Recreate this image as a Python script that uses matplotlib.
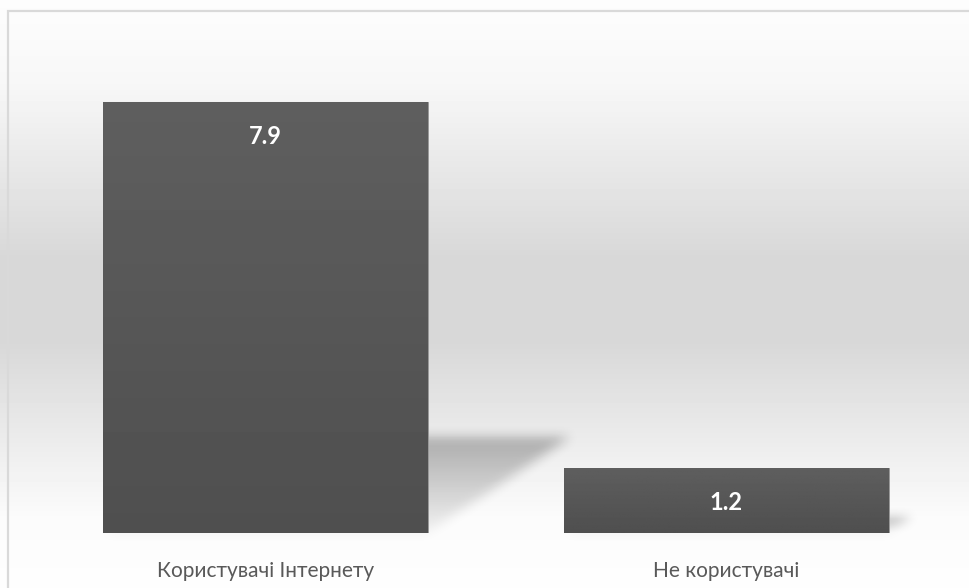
import numpy as np
import matplotlib
matplotlib.use('Agg')
import matplotlib.pyplot as plt
from matplotlib.path import Path

plt.rcParams['font.family'] = ['Lato', 'DejaVu Sans']

# Data
categories = ['Користувачі Інтернету', 'Не користувачі']
values     = [7.9, 1.2]

W, H, DPI = 970, 588, 100
fig = plt.figure(figsize=(W / DPI, H / DPI), dpi=DPI)

# Background gradient (white -> grey -> white)
bg = fig.add_axes([0, 0, 1, 1])
bg.set_xlim(0, W); bg.set_ylim(0, H)
bg.axis('off')
stops_y = np.array([0.0, 0.12, 0.42, 0.56, 0.86, 1.0])   # from top
stops_v = np.array([0.995, 0.985, 0.845, 0.845, 0.97, 0.99])
yy = np.linspace(0, 1, H)
grad = np.interp(yy, stops_y, stops_v)
bg_img = np.repeat(grad[:, None], 2, axis=1)
bg.imshow(bg_img, cmap='gray', vmin=0, vmax=1, extent=(0, W, H, 0),
          aspect='auto', origin='upper', zorder=0)

# Chart border
bg.plot([8, 8, W + 5], [-5, H - 11, H - 11], color='#d9d9d9', lw=1.6,
        solid_joinstyle='miter', zorder=1)

# Main axes
px_per_unit = 431 / 7.9
ymax = 9
ax = fig.add_axes([35 / W, 55 / H, 922 / W, ymax * px_per_unit / H])
ax.set_xlim(-0.5, len(values) - 0.5)
ax.set_ylim(0, ymax)
ax.patch.set_visible(False)
for s in ax.spines.values():
    s.set_visible(False)
ax.set_yticks([])

bar_w = 325 / 461
x = np.arange(len(values))
bars = ax.bar(x, values, width=bar_w, color='#575757', edgecolor='#9a9a9a',
              linewidth=0.7, zorder=3)

# vertical gradient inside each bar (lighter at the top)
gcol = np.linspace(0.37, 0.31, 64)[:, None]
for b in bars:
    x0, y0 = b.get_x(), b.get_y()
    im = ax.imshow(np.repeat(gcol, 2, axis=1), cmap='gray', vmin=0, vmax=1,
                   extent=(x0, x0 + b.get_width(), y0, y0 + b.get_height()),
                   aspect='auto', origin='upper', zorder=3.5)
    im.set_clip_path(b)
ax.set_xlim(-0.5, len(values) - 0.5)
ax.set_ylim(0, ymax)

# Perspective shadows behind bars
def box_blur(a, r, axis):
    c = np.cumsum(np.pad(a, [(r + 1, r) if i == axis else (0, 0) for i in range(2)],
                         mode='edge'), axis=axis)
    n = a.shape[axis]
    hi = np.take(c, np.arange(2 * r + 1, 2 * r + 1 + n), axis=axis)
    lo = np.take(c, np.arange(0, n), axis=axis)
    return (hi - lo) / (2 * r + 1)

gx, gy = np.meshgrid(np.arange(W) + 0.5, np.arange(H) + 0.5)
pts = np.column_stack([gx.ravel(), gy.ravel()])
shadow_alpha = np.zeros((H, W))
for b, v in zip(bars, values):
    x0, x1 = b.get_x(), b.get_x() + b.get_width()
    sh_h = v * 0.222
    sh_dx = v * 0.039
    poly = np.array([[x0, 0], [x1, 0], [x1 + sh_dx, sh_h], [x0 + sh_dx, sh_h]])
    pix = ax.transData.transform(poly)
    mask = Path(pix).contains_points(pts).reshape(H, W).astype(float)
    for _ in range(2):
        mask = box_blur(mask, 6, 0)
        mask = box_blur(mask, 6, 1)
    base_y, top_y = pix[0, 1], pix[2, 1]
    t = np.clip((gy - base_y) / max(top_y - base_y, 1), 0, 1)
    shadow_alpha = np.maximum(shadow_alpha, mask * (0.05 + 0.22 * t))

rgba = np.zeros((H, W, 4))
rgba[..., 3] = shadow_alpha
bg.imshow(rgba, extent=(0, W, 0, H), origin='lower', aspect='auto', zorder=2)
bg.set_xlim(0, W); bg.set_ylim(0, H)

# Value labels
for xi, v in zip(x, values):
    ax.annotate(f'{v}', xy=(xi, v), xytext=(0, -25), textcoords='offset points',
                ha='center', va='center', color='white', fontsize=17,
                fontweight='bold', zorder=5)

ax.set_xticks(x)
ax.set_xticklabels(categories, fontsize=15, color='#595959')
ax.tick_params(axis='x', length=0, pad=20)

plt.savefig('out.png', dpi=DPI)
